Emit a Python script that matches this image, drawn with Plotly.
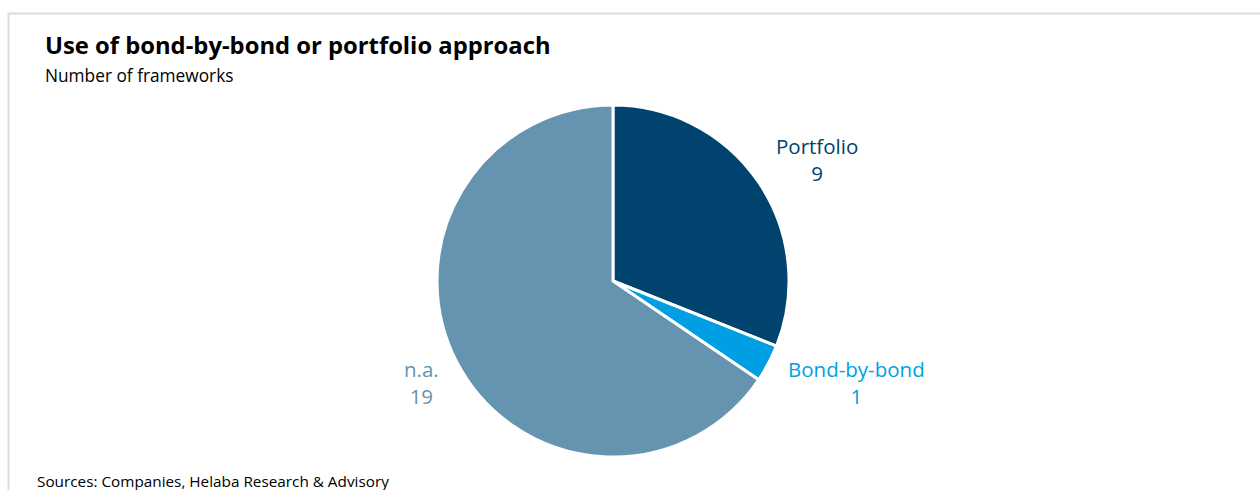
import plotly.graph_objects as go

# Frameworks by approach
categories = ["Portfolio", "Bond-by-bond", "n.a."]
counts = [9, 1, 19]
colors = ["#00436e", "#009fe3", "#6594b0"]

title = "Use of bond-by-bond or portfolio approach"
subtitle = "Number of frameworks"
source = "Sources: Companies, Helaba Research & Advisory"

W, H = 1260, 490
cx, cy, r = 613, 281, 176  # pie centre / radius in pixels

FONT = "Open Sans"

fig = go.Figure(go.Pie(
    labels=categories,
    values=counts,
    sort=False,
    direction="clockwise",
    rotation=0,
    marker=dict(colors=colors, line=dict(color="white", width=3)),
    textinfo="none",
    hoverinfo="label+value",
    showlegend=False,
    domain=dict(x=[(cx - r) / W, (cx + r) / W],
                y=[1 - (cy + r) / H, 1 - (cy - r) / H]),
))

# Label centre points (pixels) for each two-line slice label
label_pos = [(817, 159.5), (856, 382.5), (421, 382.5)]
annotations = []
for cat, val, col, (lx, ly) in zip(categories, counts, colors, label_pos):
    annotations.append(dict(
        x=lx / W, y=1 - ly / H, xref="paper", yref="paper",
        text=f"{cat}<br>{val}", showarrow=False, align="center",
        xanchor="center", yanchor="middle", borderpad=0,
        font=dict(family=FONT, size=20.5, color=col),
    ))

annotations += [
    dict(x=43 / W, y=1 - 45 / H, xref="paper", yref="paper", text=f"<b>{title}</b>",
         showarrow=False, xanchor="left", yanchor="middle",
         font=dict(family=FONT, size=23.8, color="#000000")),
    dict(x=43 / W, y=1 - 75 / H, xref="paper", yref="paper", text=subtitle,
         showarrow=False, xanchor="left", yanchor="middle",
         font=dict(family=FONT, size=17.3, color="#000000")),
    dict(x=35 / W, y=1 - 481 / H, xref="paper", yref="paper", text=source,
         showarrow=False, xanchor="left", yanchor="middle",
         font=dict(family=FONT, size=15.3, color="#000000")),
]

# Light grey frame along top and left edge
shapes = [
    dict(type="line", xref="paper", yref="paper", x0=8 / W, x1=1, y0=1 - 13.5 / H, y1=1 - 13.5 / H,
         line=dict(color="#dcdcdc", width=2)),
    dict(type="line", xref="paper", yref="paper", x0=8.5 / W, x1=8.5 / W, y0=0, y1=1 - 13 / H,
         line=dict(color="#dcdcdc", width=2)),
]

fig.update_layout(
    width=W, height=H,
    margin=dict(l=0, r=0, t=0, b=0),
    paper_bgcolor="white", plot_bgcolor="white",
    annotations=annotations, shapes=shapes,
)

fig.write_html("out.html")
